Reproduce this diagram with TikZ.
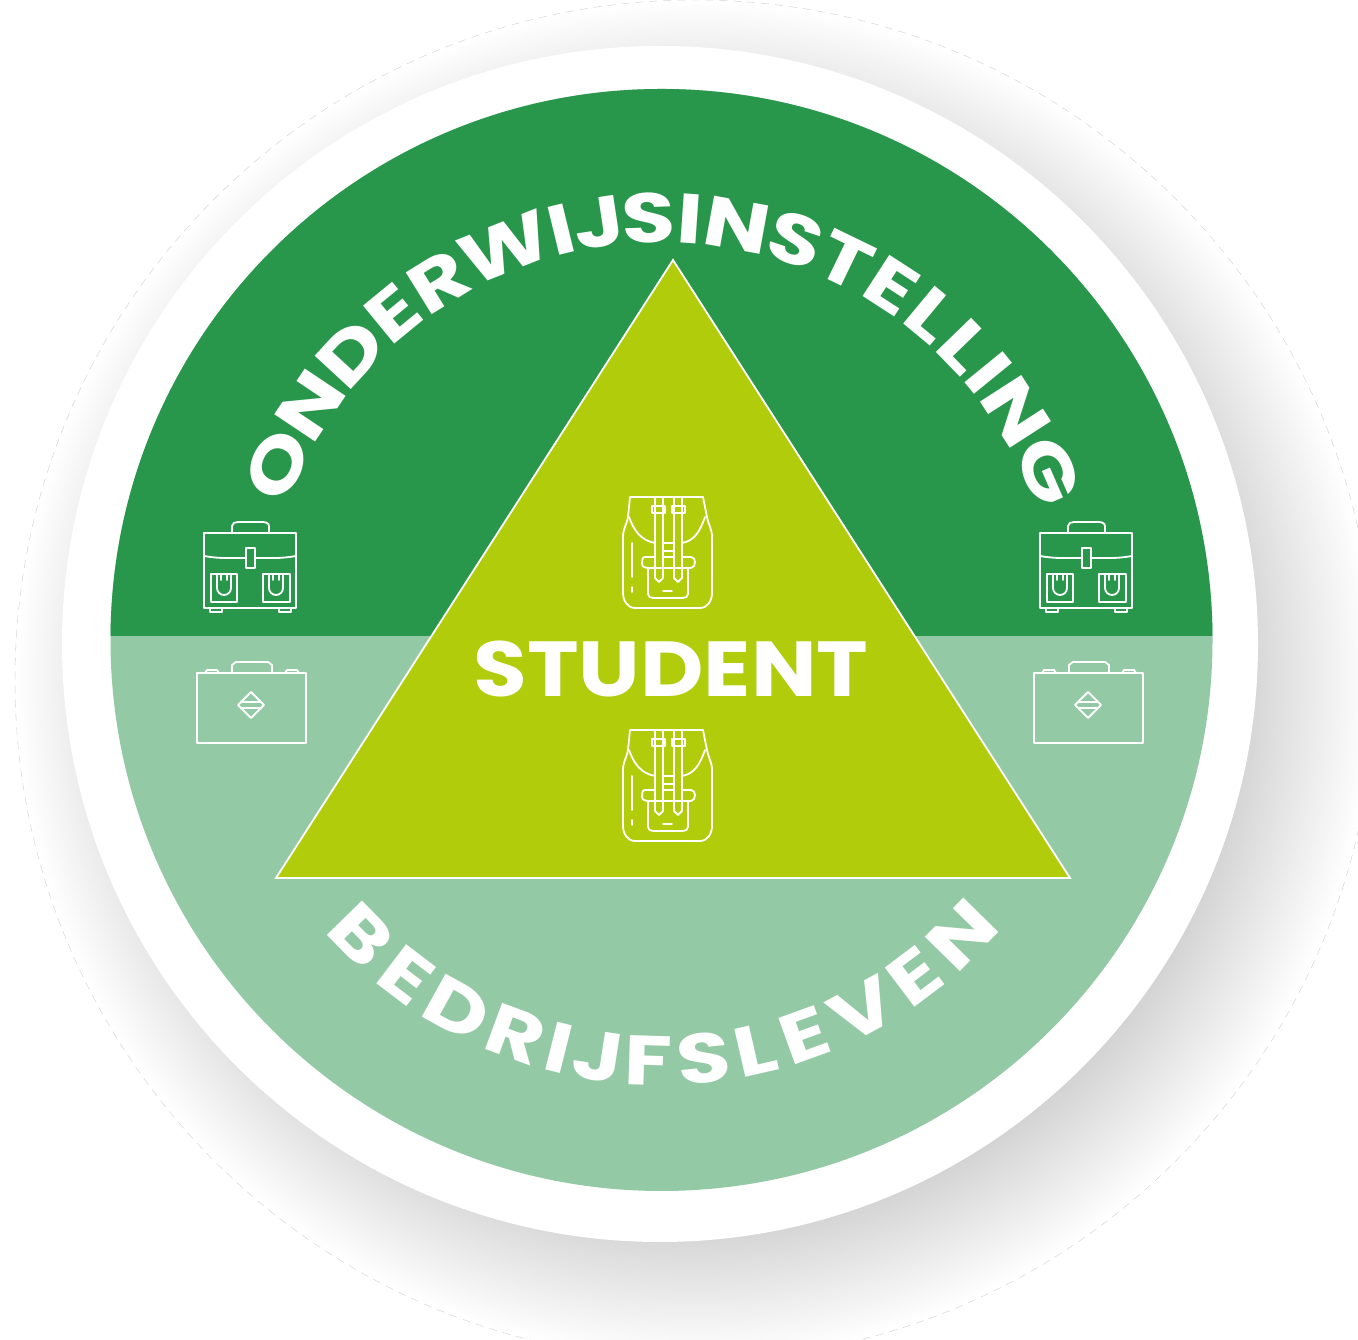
\documentclass[tikz,border=0pt]{standalone}
\usepackage{fontspec}
\setmainfont{Poppins}
\newfontfamily\labelfont[FakeStretch=1.25]{Poppins Bold}
\newfontfamily\centerfont[FakeStretch=1.12]{Poppins Bold}
\definecolor{dgreen}{HTML}{29974B}
\definecolor{lgreen}{HTML}{93CAA5}
\definecolor{lime}{HTML}{B0CC0A}
\tikzset{
  icon/.style={draw=white,line width=1.8pt,line join=round,line cap=round,fill=none},
  arcletter/.style={text=white,inner sep=0pt,text height=49pt,text depth=0pt,font=\labelfont\fontsize{70pt}{70pt}\selectfont}
}
\newcommand{\schooltas}[2]{%
\begin{scope}[shift={(#1,#2)},x=1pt,y=-1pt,icon]
 \draw (-46,-35) rectangle (46,40);
 \draw (-18,-35) -- (-18,-42) to[out=90,in=180] (-12,-46) -- (12,-46) to[out=0,in=90] (19,-42) -- (19,-35);
 \draw (-46,-12) to[out=-10,in=180] (-5,-10) (5,-10) to[out=0,in=190] (46,-12);
 \draw (-4,-20) rectangle (5,0);
 \draw (-39,6) rectangle (-13,34);
 \draw (13,6) rectangle (40,34);
 \draw (-33,6) -- (-33,20) to[out=-90,in=180] (-26,27) to[out=0,in=-90] (-19,20) -- (-19,6);
 \draw (-29,6) -- (-29,12) (-23,6) -- (-23,12);
 \draw (19,6) -- (19,20) to[out=-90,in=180] (26,27) to[out=0,in=-90] (33,20) -- (33,6);
 \draw (23,6) -- (23,12) (29,6) -- (29,12);
 \draw (-40,40) -- (-40,44) -- (-28,44) -- (-28,40);
 \draw (29,40) -- (29,44) -- (41,44) -- (41,40);
\end{scope}}
\newcommand{\koffer}[2]{%
\begin{scope}[shift={(#1,#2)},x=1pt,y=-1pt,icon]
 \draw (-54,-32) rectangle (55,38);
 \draw (-19,-32) -- (-19,-40) -- (-15,-43) -- (17,-43) -- (21,-40) -- (21,-32);
 \draw (-46,-32) -- (-44,-35) -- (-34,-35) -- (-32,-32);
 \draw (34,-32) -- (36,-35) -- (46,-35) -- (48,-32);
 \draw (0,-13) -- (13,0) -- (0,13) -- (-13,0) -- cycle;
 \draw (-9,-3) -- (9,-3) (-9,3) -- (9,3);
\end{scope}}
\newcommand{\rugzak}[2]{%
\begin{scope}[shift={(#1,#2)},x=1pt,y=-1pt,icon]
 \draw (-37,-55) -- (36,-55) -- (40,-35) to[out=-80,in=90] (45,-15) -- (45,41)
   to[out=-90,in=0] (33,56) -- (-32,56) to[out=180,in=-90] (-44,41) -- (-44,-15)
   to[out=90,in=-100] (-39,-35) -- cycle;
 \draw (-38,-35) to[out=-70,in=170] (-12,-9);
 \draw (38,-35) to[out=-110,in=10] (15,-9);
 \draw (-12,-55) -- (-12,26) -- (-8,30) -- (-4,26) -- (-4,-55);
 \draw (7,-55) -- (7,26) -- (11,30) -- (15,26) -- (15,-55);
 \draw (-15,-46) rectangle (-2,-39);
 \draw (5,-46) rectangle (18,-39);
 \draw (-4,-9) -- (7,-9) (-4,-1) -- (7,-1);
 \draw (-12,5) -- (-22,5) to[out=180,in=90] (-25,12) to[out=-90,in=180] (-17,16) -- (24,16)
   to[out=0,in=-90] (28,10) to[out=90,in=0] (24,5) -- (15,5);
 \draw (-4,5) -- (7,5);
 \draw (-19,16) -- (-19,42) to[out=-90,in=180] (-14,46) -- (16,46) to[out=0,in=-90] (21,42) -- (21,16);
 \draw (-4,39) -- (5,39);
 \draw (-35,-9) -- (-35,25) (-35,35) -- (-35,40);
\end{scope}}
\begin{document}
\begin{tikzpicture}[x=1pt,y=1pt]
\useasboundingbox (0,0) rectangle (1358,1340);
\fill[white] (0,0) rectangle (1358,1340);
\begin{scope}
 \clip (0,0) rectangle (1358,1340);
 % soft shadow, built up from many faint discs
 \foreach \r in {678,675,...,540}{
   \fill[black,opacity=0.0030] (695,660) circle[radius=\r pt];
 }
 \draw[black!16,line width=0.5pt,dash pattern=on 8pt off 6pt] (695,660) circle[radius=680pt];
\end{scope}
% white disc
\fill[white] (660,696) circle[radius=598pt];
% green halves
\fill[lgreen] (661.5,700) circle[radius=551pt];
\begin{scope}
 \clip (100,704) rectangle (1230,1300);
 \fill[dgreen] (661.5,700) circle[radius=551pt];
\end{scope}
% triangle
\draw[fill=lime,draw=white,line width=1.8pt,line join=miter] (673,1080) -- (1070,462) -- (276,462) -- cycle;
% icons
\schooltas{250}{772}
\schooltas{1086}{772}
\koffer{251}{635}
\koffer{1088}{635}
\rugzak{667}{788}
\rugzak{667}{555}
% labels
\node[text=white,inner sep=0pt] (student) at (671,671) {\centerfont\fontsize{78pt}{78pt}\selectfont STUDENT};
\coordinate (mid) at (661.5,700);
\foreach \ch/\a [count=\i] in {O/155.5,N/146.2,D/137.3,E/129.4,R/121.8,W/111.7,I/103.7,J/98.6,S/91.8,I/86.1,N/79.7,S/71.5,T/64.1,E/57,L/50.3,L/44.1,I/39.2,N/32.8,G/23.6}{
  \node[arcletter,rotate=\a-90] (top\i) at ([shift={(\a:422pt)}]mid) {\ch};
}
\foreach \ch/\a [count=\i] in {B/224.4,E/232.7,D/241,R/249.7,I/255.9,J/261.3,F/268.2,S/275.8,L/282.9,E/289.9,V/298.5,E/307,N/315.5}{
  \node[arcletter,rotate=\a+90] (bottom\i) at ([shift={(\a:421pt)}]mid) {\ch};
}
\end{tikzpicture}
\end{document}
